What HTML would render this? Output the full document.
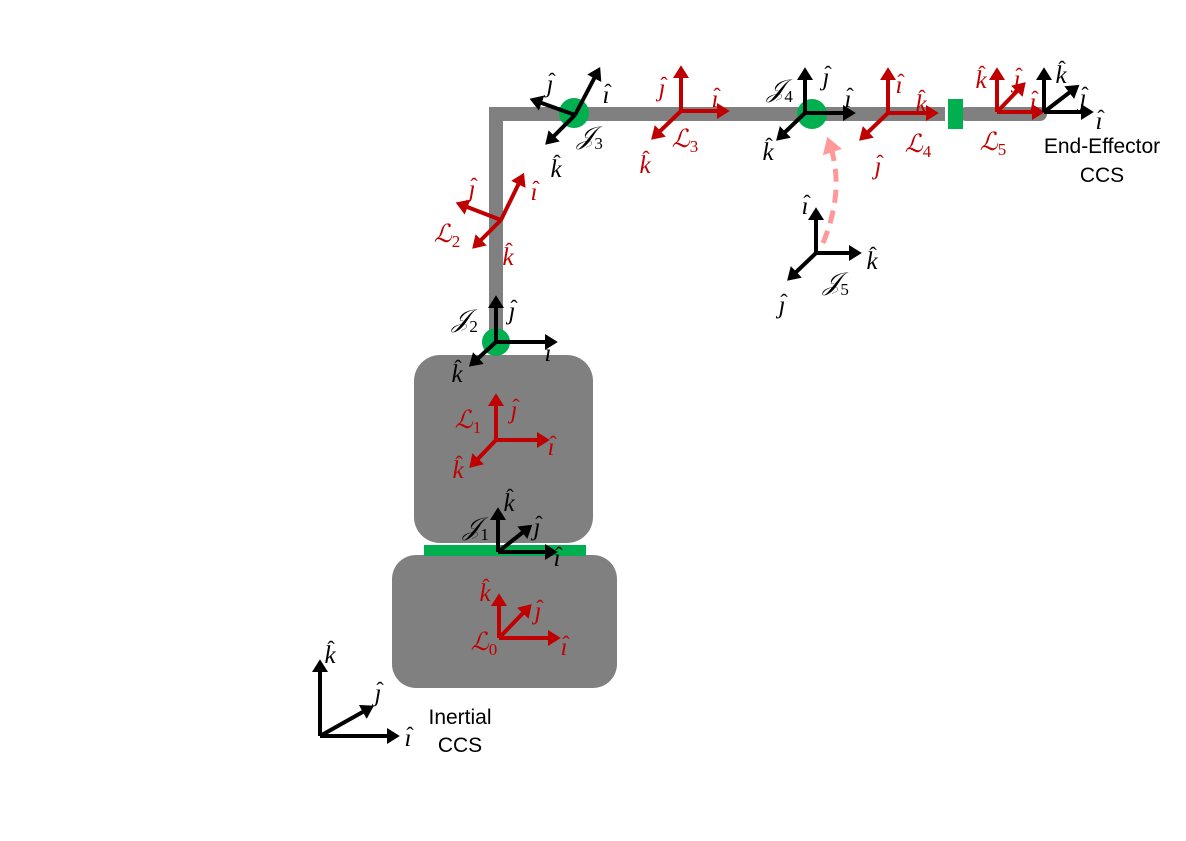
<!DOCTYPE html>
<html><head><meta charset="utf-8">
<style>
html,body{margin:0;padding:0;background:#fff;}
svg{display:block;}
.lbl{font-family:"Liberation Serif","DejaVu Serif",serif;font-style:italic;font-size:25px;}
.hat{font-family:"Liberation Serif","DejaVu Serif",serif;font-size:22px;}
.txt{font-family:"Liberation Sans",sans-serif;font-size:21px;}
</style></head>
<body>
<svg id="d" width="1186" height="841" viewBox="0 0 1186 841">
<defs>
<marker id="hb" markerWidth="4" markerHeight="4" refX="1.5" refY="2" orient="auto" markerUnits="strokeWidth"><path d="M0,0 L3.2,2 L0,4 z" fill="#000"/></marker>
<marker id="hr" markerWidth="4" markerHeight="4" refX="1.5" refY="2" orient="auto" markerUnits="strokeWidth"><path d="M0,0 L3.2,2 L0,4 z" fill="#c00000"/></marker>
<marker id="hp" markerWidth="4" markerHeight="4" refX="1.5" refY="2" orient="auto" markerUnits="strokeWidth"><path d="M0,0 L3.2,2 L0,4 z" fill="#ff9999"/></marker>
</defs>
<rect x="392" y="555" width="225" height="133" rx="24" fill="#808080"/>
<rect x="414" y="355" width="179" height="188" rx="26" fill="#808080"/>
<rect x="424" y="545" width="162" height="11" fill="#00b050"/>
<path d="M496,340 L496,114 L945,114" fill="none" stroke="#808080" stroke-width="14" stroke-linejoin="miter"/>
<path d="M966,114 L1040,114" fill="none" stroke="#808080" stroke-width="14" stroke-linecap="round"/>
<rect x="948" y="99" width="15" height="30" fill="#00b050"/>
<circle cx="496" cy="342" r="14" fill="#00b050"/>
<circle cx="574" cy="113" r="15" fill="#00b050"/>
<circle cx="812" cy="114" r="15" fill="#00b050"/>
<path d="M823,243 Q845,190 830,145" fill="none" stroke="#ff9999" stroke-width="5" stroke-dasharray="13,8" marker-end="url(#hp)"/>
<g id="frames"></g>
<text class="txt" x="460" y="724" text-anchor="middle">Inertial</text>
<text class="txt" x="460" y="752" text-anchor="middle">CCS</text>
<text class="txt" x="1102" y="153" text-anchor="middle">End-Effector</text>
<text class="txt" x="1102" y="182" text-anchor="middle">CCS</text>
</svg>
<script>
const I="ı",J="ȷ",K="k";
// frames: name, color, origin, axes [label, tip x, tip y, label x, label y], name label
const frames=[
 {n:"inertial",c:"b",o:[320,736],ax:[[K,320,666,330,655],[J,368,709,378,693],[I,393,736,408,738]],t:null},
 {n:"l0",c:"r",o:[499,638],ax:[[K,499,600,485,593],[J,527,609,538,611],[I,554,638,564,647]],t:["ℒ","0",484,650]},
 {n:"j1",c:"b",o:[498,552],ax:[[K,498,514,509,503],[J,527,529,537,527],[I,551,552,557,558]],t:["𝒥","1",476,535]},
 {n:"l1",c:"r",o:[496,440],ax:[[J,496,400,514,410],[I,543,440,551,447],[K,474,463,458,470]],t:["ℒ","1",468,428]},
 {n:"j2",c:"b",o:[496,342],ax:[[J,496,302,512,311],[I,551,342,548,353],[K,474,362,457,374]],t:["𝒥","2",465,327]},
 {n:"l2",c:"r",o:[501,220],ax:[[I,521,179,534,192],[J,462,205,472,189],[K,477,244,508,257]],t:["ℒ","2",447,242]},
 {n:"j3",c:"b",o:[575,115],ax:[[I,597,73,606,95],[J,536,101,550,84],[K,550,140,556,169]],t:["𝒥","3",590,144]},
 {n:"l3",c:"r",o:[681,111],ax:[[J,681,72,662,88],[I,723,111,715,99],[K,656,135,645,165]],t:["ℒ","3",685,147]},
 {n:"j4",c:"b",o:[805,113],ax:[[J,805,74,826,77],[I,849,113,848,99],[K,781,136,768,152]],t:["𝒥","4",780,97]},
 {n:"l4",c:"r",o:[888,113],ax:[[I,888,74,899,85],[K,932,113,921,104],[J,864,136,878,166]],t:["ℒ","4",918,152]},
 {n:"l5",c:"r",o:[997,112],ax:[[K,997,74,981,80],[J,1021,87,1017,79],[I,1038,112,1033,102]],t:["ℒ","5",993,150]},
 {n:"ee",c:"b",o:[1044,112],ax:[[K,1044,74,1061,75],[J,1074,89,1083,98],[I,1087,112,1099,121]],t:null},
 {n:"j5",c:"b",o:[816,253],ax:[[I,816,214,805,206],[K,855,253,872,261],[J,792,276,782,305]],t:["𝒥","5",836,290]}
];
const svg=document.getElementById('frames');
const NS="http://www.w3.org/2000/svg";
frames.forEach(f=>{
 const col=f.c==="r"?"#c00000":"#000";
 const g=document.createElementNS(NS,'g');
 
 
 f.ax.forEach(a=>{
  const l=document.createElementNS(NS,'line');
  l.setAttribute('x1',f.o[0]);l.setAttribute('y1',f.o[1]);
  l.setAttribute('x2',a[1]);l.setAttribute('y2',a[2]);
  l.setAttribute('stroke',col);l.setAttribute('stroke-width','4');
  l.setAttribute('marker-end',f.c==="r"?'url(#hr)':'url(#hb)');
  
  
  g.appendChild(l);
  const t=document.createElementNS(NS,'text');
  t.setAttribute('class','lbl');t.setAttribute('x',a[3]);t.setAttribute('y',a[4]+8);
  t.setAttribute('text-anchor','middle');t.setAttribute('fill',col);
  t.textContent=a[0];
  
  
  g.appendChild(t);
  const h=document.createElementNS(NS,'text');
  h.setAttribute('class','hat');
  h.setAttribute('x',a[3]+(a[0]===K?1:2));
  h.setAttribute('y',a[4]+(a[0]===K?1:4));
  h.setAttribute('text-anchor','middle');h.setAttribute('fill',col);
  h.textContent="ˆ";
  
  
  g.appendChild(h);
 });
 if(f.t){
  const t=document.createElementNS(NS,'text');
  t.setAttribute('class','lbl');t.setAttribute('x',f.t[2]);t.setAttribute('y',f.t[3]);
  t.setAttribute('text-anchor','middle');t.setAttribute('fill',col);
  t.innerHTML=f.t[0]+'<tspan font-size="17" dy="5" font-style="normal">'+f.t[1]+'</tspan>';
  
  
  g.appendChild(t);
 }
 svg.appendChild(g);
});
</script>
</body></html>
